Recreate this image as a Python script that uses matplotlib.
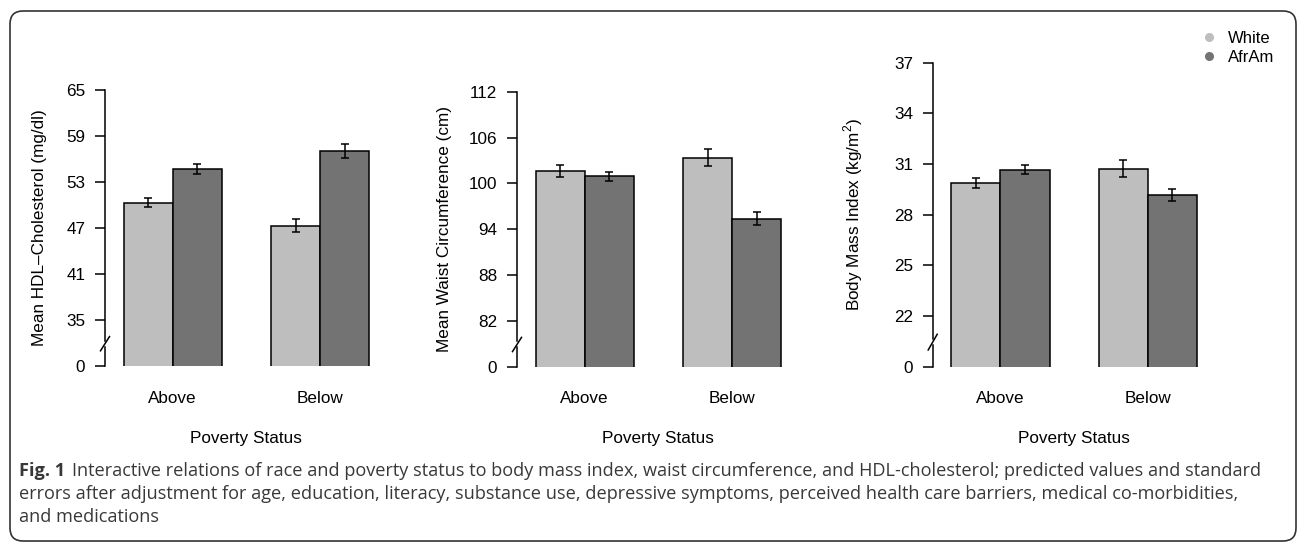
import matplotlib
matplotlib.use("Agg")
import matplotlib.pyplot as plt
import matplotlib.transforms as mtransforms
from matplotlib.patches import FancyBboxPatch
from matplotlib.lines import Line2D
import numpy as np

plt.rcParams['font.family'] = ['Liberation Sans', 'DejaVu Sans']
plt.rcParams['mathtext.fontset'] = 'custom'
plt.rcParams['mathtext.rm'] = 'Liberation Sans'

W, H = 1297, 544

groups = ["Above", "Below"]
races = ["White", "AfrAm"]

hdl_white = [50.3, 47.3]
hdl_white_se = [0.6, 0.85]
hdl_afram = [54.7, 57.0]
hdl_afram_se = [0.7, 0.9]
hdl_ticks = [35, 41, 47, 53, 59, 65]

waist_white = [101.6, 103.35]
waist_white_se = [0.75, 1.1]
waist_afram = [100.9, 95.4]
waist_afram_se = [0.63, 0.8]
waist_ticks = [82, 88, 94, 100, 106, 112]

bmi_white = [29.9, 30.71]
bmi_white_se = [0.3, 0.5]
bmi_afram = [30.67, 29.19]
bmi_afram_se = [0.28, 0.35]
bmi_ticks = [22, 25, 28, 31, 34, 37]

ylabels = ["Mean HDL\u2013Cholesterol (mg/dl)",
           "Mean Waist Circumference (cm)",
           "Body Mass Index (kg/m$^\\mathregular{2}$)"]

caption_bold = "Fig. 1"
caption_lines = [
    "Interactive relations of race and poverty status to body mass index, waist circumference, and HDL-cholesterol; predicted values and standard",
    "errors after adjustment for age, education, literacy, substance use, depressive symptoms, perceived health care barriers, medical co-morbidities,",
    "and medications",
]

light = '#bebebe'
dark = '#737373'

# panel geometry in pixels: axis x, top y, bottom y
panels = [(105, 90, 366), (517, 91.7, 366.7), (932.7, 62.7, 366.7)]
xlo, xhi = 0.62, 6.38
barw_px = 49.1

fig = plt.figure(figsize=(W / 100, H / 100), dpi=100)

frame = FancyBboxPatch((10 / 100, 0.03), 12.86, 5.30,
                       boxstyle="round,pad=0,rounding_size=0.13",
                       transform=fig.dpi_scale_trans, facecolor='none',
                       edgecolor='#333333', linewidth=1.2)
fig.patches.append(frame)

data = [
    (hdl_white, hdl_white_se, hdl_afram, hdl_afram_se, hdl_ticks),
    (waist_white, waist_white_se, waist_afram, waist_afram_se, waist_ticks),
    (bmi_white, bmi_white_se, bmi_afram, bmi_afram_se, bmi_ticks),
]

x_white = np.array([1.5, 4.5])
x_afram = np.array([2.5, 5.5])
centers = [2, 5]

for i, (wv, wse, av, ase, ticks) in enumerate(data):
    axx, top, bot = panels[i]
    width_px = (xhi - xlo) * barw_px
    ax = fig.add_axes([axx / W, 1 - bot / H, width_px / W, (bot - top) / H])
    step = ticks[1] - ticks[0]
    floor = ticks[0] - step
    ax.bar(x_white, wv, width=1, color=light, edgecolor='black', linewidth=1.1)
    ax.bar(x_afram, av, width=1, color=dark, edgecolor='black', linewidth=1.1)
    ax.errorbar(x_white, wv, yerr=wse, fmt='none', ecolor='black', elinewidth=1.1, capsize=3, capthick=1.1)
    ax.errorbar(x_afram, av, yerr=ase, fmt='none', ecolor='black', elinewidth=1.1, capsize=3, capthick=1.1)
    ax.set_xlim(xlo, xhi)
    ax.set_ylim(floor, ticks[-1])
    for s in ['top', 'right', 'bottom', 'left']:
        ax.spines[s].set_visible(False)
    ax.set_xticks([])
    ax.set_yticks([floor] + ticks)
    ax.set_yticklabels(["0"] + [str(t) for t in ticks])
    ax.tick_params(axis='y', length=7.2, width=1.1, pad=7, labelsize=12.3)

    # axis line with break
    tr = mtransforms.blended_transform_factory(ax.transAxes, ax.transData)
    ax.plot([0, 0], [floor, floor + 0.42 * step], color='black', lw=1.1, transform=tr, clip_on=False)
    ax.plot([0, 0], [floor + 0.55 * step, ticks[-1]], color='black', lw=1.1, transform=tr, clip_on=False)
    dx = 4.5 / width_px
    ax.plot([-dx, dx], [floor + 0.33 * step, floor + 0.64 * step], color='black', lw=1.1, transform=tr, clip_on=False)

    # category labels and x title
    trx = mtransforms.blended_transform_factory(ax.transData, fig.transFigure)
    for c, g in zip(centers, groups):
        ax.text(c, 1 - 402.7 / H, g, transform=trx, ha='center', va='baseline', fontsize=12.3)
    ax.text(3.5, 1 - 443.3 / H, "Poverty Status", transform=trx, ha='center', va='baseline', fontsize=12.3)

# y-axis titles
ylab_x = [40, 445, 853]
for i, lab in enumerate(ylabels):
    axx, top, bot = panels[i]
    fig.text(ylab_x[i] / W, 1 - (top + bot) / 2 / H, lab, rotation=90,
             ha='center', va='center', fontsize=12.3)

# legend
handles = [Line2D([], [], marker='o', linestyle='none', markersize=5.5, color=light),
           Line2D([], [], marker='o', linestyle='none', markersize=5.5, color=dark)]
fig.legend(handles, races, loc='upper left', bbox_to_anchor=(1202 / W, 1 - 31 / H),
           frameon=False, fontsize=12, handlelength=0.8, handletextpad=0.75,
           borderpad=0, borderaxespad=0, labelspacing=0.25)

# caption
cap_font = ['Open Sans', 'DejaVu Sans']
cap_size = 13.1
cap_color = '#383838'
baselines = [476, 499, 521.5]
renderer = fig.canvas.get_renderer()
tb = fig.text(19 / W, 1 - baselines[0] / H, caption_bold, fontsize=cap_size, family=cap_font,
              fontweight='bold', color=cap_color, va='baseline')
bb = tb.get_window_extent(renderer=renderer)
fig.text(bb.x1 / W + 7 / W, 1 - baselines[0] / H, caption_lines[0], fontsize=cap_size,
         family=cap_font, color=cap_color, va='baseline')
for line, yb in zip(caption_lines[1:], baselines[1:]):
    fig.text(19 / W, 1 - yb / H, line, fontsize=cap_size, family=cap_font, color=cap_color, va='baseline')

fig.savefig("out.png", dpi=100)
